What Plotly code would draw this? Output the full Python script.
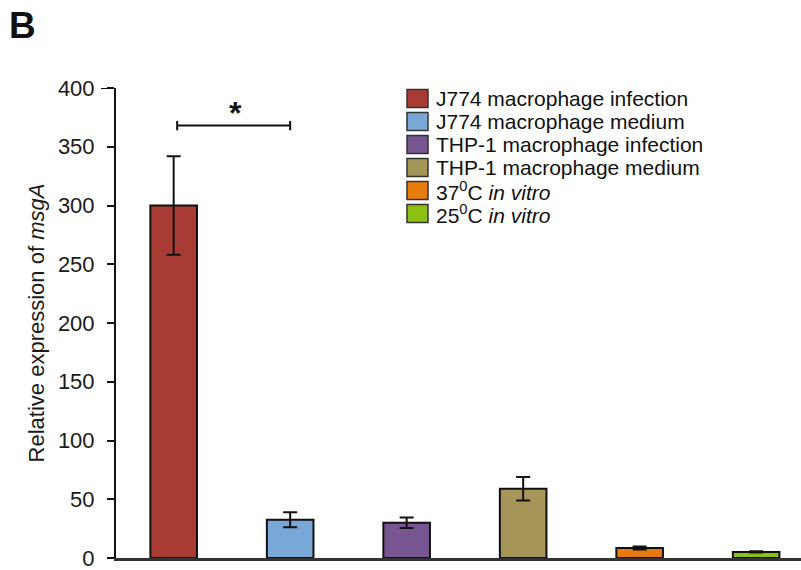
import plotly.graph_objects as go

categories = ["J774 macrophage infection", "J774 macrophage medium",
              "THP-1 macrophage infection", "THP-1 macrophage medium",
              "37<sup>0</sup>C <i>in vitro</i>", "25<sup>0</sup>C <i>in vitro</i>"]
values = [300, 32.5, 30, 59, 8.5, 5.2]
errors = [42, 6.4, 4.5, 10, 1.2, 0.5]
colors = ["#a83c35", "#79a7d6", "#775590", "#a69558", "#e77c0e", "#8cc014"]
y_ticks = [0, 50, 100, 150, 200, 250, 300, 350, 400]
sig_pair = (0, 1)
sig_y = 368

FONT = "Liberation Sans, Arial, sans-serif"
xs = list(range(len(values)))

fig = go.Figure()
fig.add_trace(go.Bar(
    x=xs, y=values, width=0.40,
    marker=dict(color=colors, line=dict(color="#111111", width=2)),
    error_y=dict(type="data", array=errors, visible=True, color="#111111",
                 thickness=2, width=7),
    showlegend=False,
))

W, H = 801, 570
L, R, T, B = 116, 801, 88, 558
def pax(p):
    return (p - L) / (R - L)
def pay(p):
    return (B - p) / (B - T)

shapes = []
# significance bracket
shapes.append(dict(type="line", xref="x", yref="y", x0=sig_pair[0] + 0.03, x1=sig_pair[1],
                   y0=sig_y, y1=sig_y, line=dict(color="#111111", width=2)))
for xv in (sig_pair[0] + 0.03, sig_pair[1]):
    shapes.append(dict(type="line", xref="x", yref="y", x0=xv, x1=xv,
                       y0=sig_y - 4, y1=sig_y + 4, line=dict(color="#111111", width=2)))
# longer top tick as in the reference
shapes.append(dict(type="line", xref="paper", yref="y", x0=pax(101), x1=0,
                   y0=y_ticks[-1], y1=y_ticks[-1], line=dict(color="#111111", width=2)))

annotations = [
    dict(x=(sig_pair[0] + sig_pair[1]) / 2 + 0.03, y=sig_y - 6, xref="x", yref="y",
         text="<b>*</b>", showarrow=False, yanchor="bottom",
         font=dict(family=FONT, size=32, color="#111111")),
    dict(x=pax(7), y=pay(25), xref="paper", yref="paper", xanchor="left", yanchor="middle",
         text="<b>B</b>", showarrow=False, font=dict(family=FONT, size=37, color="#111111")),
]

row0 = 98.5
dy = 23
for i, (lab, col) in enumerate(zip(categories, colors)):
    cy = row0 + i * dy
    shapes.append(dict(type="rect", xref="paper", yref="paper",
                       x0=pax(407), x1=pax(428), y0=pay(cy - 9), y1=pay(cy + 9),
                       fillcolor=col, line=dict(color="#333333", width=1.5)))
    annotations.append(dict(x=pax(434), y=pay(cy), xref="paper", yref="paper",
                            xanchor="left", yanchor="middle", text=lab, showarrow=False,
                            font=dict(family=FONT, size=21, color="#111111")))

fig.update_layout(
    width=801, height=570,
    margin=dict(l=L, r=W - R, t=T, b=H - B),
    plot_bgcolor="white", paper_bgcolor="white",
    shapes=shapes, annotations=annotations,
    xaxis=dict(range=[-0.495, 5.385], showticklabels=False, ticks="",
               showline=True, linecolor="#333333", linewidth=2.5,
               showgrid=False, zeroline=False),
    yaxis=dict(range=[0, 400], tickvals=y_ticks, ticks="outside", ticklen=7,
               tickwidth=2, tickcolor="#111111", ticklabelstandoff=8,
               ticklabeloverflow="allow",
               showline=True, linecolor="#111111", linewidth=2,
               showgrid=False, zeroline=False,
               tickfont=dict(family=FONT, size=22, color="#1a1a1a"),
               title=dict(text="Relative expression of <i>msgA</i>",
                          font=dict(family=FONT, size=22, color="#1a1a1a"), standoff=7)),
)

fig.write_html("out.html")
